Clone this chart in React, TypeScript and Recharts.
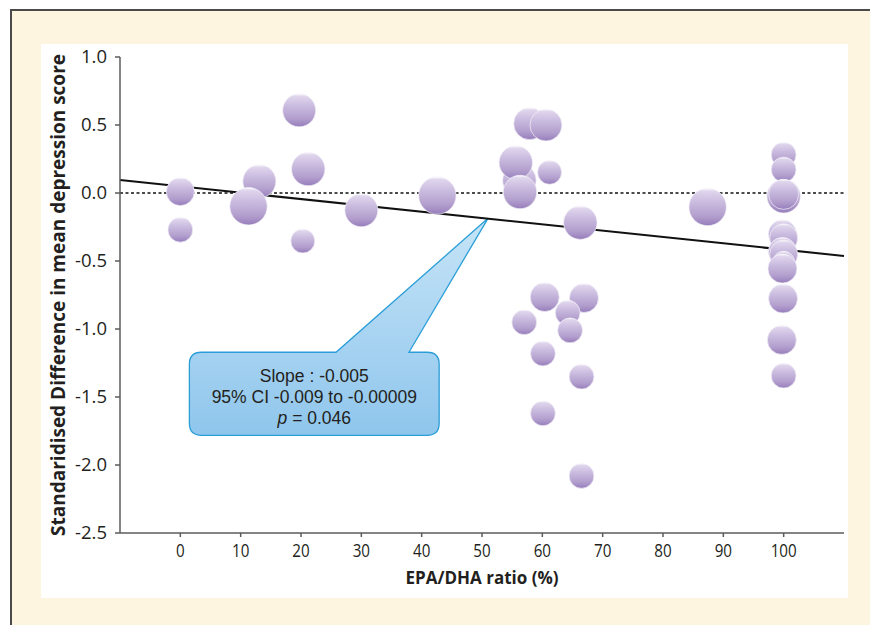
import { ScatterChart, Scatter, XAxis, YAxis, ZAxis, ReferenceLine, ReferenceArea } from 'recharts';

// bubbles: EPA/DHA ratio, standardised difference, study weight
const EPA_RATIO = [
  0, 0, 13.1, 11.3, 19.7, 21.2, 20.3, 30, 42.6,
  56.2, 55.6, 56.3, 57.9, 60.6, 61.2, 66.3, 87.4,
  60.4, 66.9, 64.2, 57, 64.6, 60.1, 66.5, 60.1, 66.5,
  100, 100, 100, 100, 99.8, 100, 99.8, 100, 100, 99.8, 99.9, 99.7, 100,
];
const SMD = [
  0.01, -0.27, 0.086, -0.098, 0.608, 0.176, -0.353, -0.127, -0.019,
  0.093, 0.224, 0.007, 0.51, 0.5, 0.152, -0.218, -0.103,
  -0.765, -0.772, -0.88, -0.95, -1.01, -1.18, -1.35, -1.62, -2.08,
  0.282, 0.172, -0.024, -0.01, -0.3, -0.33, -0.43, -0.45, -0.51, -0.556, -0.776, -1.08, -1.343,
];
const WEIGHT = [
  56, 44, 78, 100, 78, 80, 41, 78, 100,
  80, 80, 80, 73, 73, 41, 80, 100,
  60, 60, 44, 44, 44, 44, 44, 44, 44,
  44, 44, 80, 64, 56, 56, 56, 56, 35, 60, 60, 60, 44,
];

const X_TICKS = [0, 10, 20, 30, 40, 50, 60, 70, 80, 90, 100];
const Y_TICKS = [-2.5, -2, -1.5, -1, -0.5, 0, 0.5, 1];

// meta-regression line end points
const TREND_X = [-10, 110];
const TREND_Y = [0.095, -0.463];

const CALLOUT_LINES = ['Slope : -0.005', '95% CI -0.009 to -0.00009', '= 0.046'];
const CALLOUT_BOX = { x1: 1.5, x2: 42.9, y1: -1.782, y2: -1.171 };
const CALLOUT_BASE = [25.8, 37.9];
const CALLOUT_TIP = { x: 51.0, y: -0.186 };

const points = EPA_RATIO.map((x, i) => ({ x, y: SMD[i], w: WEIGHT[i] }));

const Bubble = (p: any) => {
  const r = p.width ? p.width / 2 : Math.sqrt(p.size / Math.PI);
  return <circle cx={p.cx} cy={p.cy} r={r} fill="url(#bubbleFill)" stroke="#f4f0f8" strokeWidth={0.7} />;
};

// condensed-looking x tick labels
const XTick = (p: any) => (
  <text
    transform={`translate(${p.x} ${p.y}) scale(0.8 1)`}
    textAnchor="middle"
    dy="0.71em"
    fontSize={19}
    fill="#231f20"
  >
    {p.payload.value}
  </text>
);

const YTick = (p: any) => (
  <text x={p.x} y={p.y} dy="0.35em" textAnchor="end" fontSize={18.5} fill="#231f20">
    {Number(p.payload.value).toFixed(1)}
  </text>
);

const Callout = (p: any) => {
  const { x, y, width, height } = p;
  const px = (v: number) => x + ((v - CALLOUT_BOX.x1) / (CALLOUT_TIP.x - CALLOUT_BOX.x1)) * width;
  const py = (v: number) => y + ((CALLOUT_TIP.y - v) / (CALLOUT_TIP.y - CALLOUT_BOX.y1)) * height;
  const L = px(CALLOUT_BOX.x1), R = px(CALLOUT_BOX.x2);
  const T = py(CALLOUT_BOX.y2), B = py(CALLOUT_BOX.y1);
  const bl = px(CALLOUT_BASE[0]), br = px(CALLOUT_BASE[1]);
  const tx = px(CALLOUT_TIP.x), ty = py(CALLOUT_TIP.y);
  const r = 12;
  const d = `M ${L + r} ${T} L ${bl} ${T} L ${tx} ${ty} L ${br} ${T} L ${R - r} ${T} Q ${R} ${T} ${R} ${T + r} `
    + `L ${R} ${B - r} Q ${R} ${B} ${R - r} ${B} L ${L + r} ${B} Q ${L} ${B} ${L} ${B - r} L ${L} ${T + r} Q ${L} ${T} ${L + r} ${T} Z`;
  const cx = (L + R) / 2;
  const font = { fontFamily: '"Liberation Sans", Arial, sans-serif', fontSize: 17.5, fill: '#231f20' };
  return (
    <g>
      <path d={d} fill="url(#calloutFill)" stroke="#2b9ed8" strokeWidth={1.3} />
      <text x={cx} y={T + 30} textAnchor="middle" {...font}>{CALLOUT_LINES[0]}</text>
      <text x={cx} y={T + 51} textAnchor="middle" {...font}>{CALLOUT_LINES[1]}</text>
      <text x={cx} y={T + 72} textAnchor="middle" {...font}>
        <tspan fontStyle="italic">p</tspan> {CALLOUT_LINES[2]}
      </text>
    </g>
  );
};

export default function App() {
  return (
    <div style={{ position: 'absolute', left: 0, top: 0, width: 870, height: 625, overflow: 'hidden', background: '#fff', fontFamily: '"Open Sans", sans-serif' }}>
      <div style={{ position: 'absolute', left: 10, top: 9, width: 900, height: 700, background: '#fdf5df', borderTop: '2px solid #4a4a4a', borderLeft: '2px solid #4a4a4a' }} />
      <div style={{ position: 'absolute', left: 41, top: 44, width: 807, height: 554, background: '#fff' }} />
      <div style={{ position: 'absolute', left: 0, top: 0 }}>
        <ScatterChart width={870} height={625} margin={{ top: 57, right: 26, left: 0, bottom: 0 }}>
          <defs>
            <linearGradient id="bubbleFill" x1="0" y1="0" x2="0" y2="1">
              <stop offset="0" stopColor="#ffffff" />
              <stop offset="0.07" stopColor="#e0d6ed" />
              <stop offset="0.35" stopColor="#cbbde0" />
              <stop offset="0.75" stopColor="#b29ecd" />
              <stop offset="1" stopColor="#967dbb" />
            </linearGradient>
            <linearGradient id="calloutFill" x1="0" y1="0" x2="0" y2="1">
              <stop offset="0" stopColor="#c6e4f7" />
              <stop offset="0.6" stopColor="#a5d2f1" />
              <stop offset="1" stopColor="#8fc6ec" />
            </linearGradient>
          </defs>
          <XAxis
            type="number"
            dataKey="x"
            domain={[-10, 110]}
            ticks={X_TICKS}
            height={92}
            stroke="#5b5b5b"
            strokeWidth={1.5}
            tickSize={4}
            tickMargin={7}
            tick={XTick}
            label={{ value: 'EPA/DHA ratio (%)', position: 'insideTop', offset: 39, fill: '#231f20', fontSize: 17, fontWeight: 700 }}
          />
          <YAxis
            type="number"
            dataKey="y"
            domain={[-2.5, 1]}
            ticks={Y_TICKS}
            width={120}
            stroke="#5b5b5b"
            strokeWidth={1.5}
            tickSize={5}
            tickMargin={8}
            tick={YTick}
            label={{
              content: ({ viewBox }: any) => {
                const cx = viewBox.x + 58;
                const cy = viewBox.y + viewBox.height / 2;
                return (
                  <text x={cx} y={cy} transform={`rotate(-90 ${cx} ${cy})`} textAnchor="middle" dominantBaseline="central" fontSize={19} fontWeight={700} fill="#231f20">
                    Standaridised Difference in mean depression score
                  </text>
                );
              },
            }}
          />
          <ZAxis type="number" dataKey="w" domain={[0, 100]} range={[0, 1100]} />
          <Scatter data={points} shape={Bubble} isAnimationActive={false} />
          <ReferenceLine y={0} stroke="#111" strokeWidth={1.5} strokeDasharray="3 2.5" />
          <ReferenceLine
            segment={[{ x: TREND_X[0], y: TREND_Y[0] }, { x: TREND_X[1], y: TREND_Y[1] }]}
            stroke="#111"
            strokeWidth={2}
          />
          <ReferenceArea
            x1={CALLOUT_BOX.x1}
            x2={CALLOUT_TIP.x}
            y1={CALLOUT_BOX.y1}
            y2={CALLOUT_TIP.y}
            shape={Callout}
          />
        </ScatterChart>
      </div>
    </div>
  );
}
